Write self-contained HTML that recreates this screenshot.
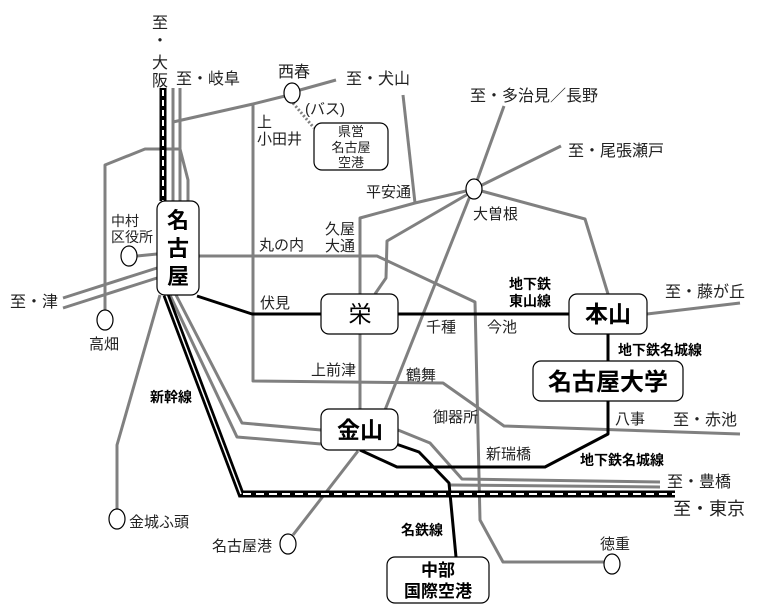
<!DOCTYPE html>
<html><head><meta charset="utf-8"><style>
html,body{margin:0;padding:0;background:#fff;}
svg{display:block;}
text{font-family:"Liberation Sans","Noto Sans CJK JP",sans-serif;fill:#222;}
.b{font-weight:bold;fill:#000;}
</style></head><body>
<svg width="760" height="616" viewBox="0 0 760 616" xmlns="http://www.w3.org/2000/svg">
<g fill="none" stroke="#808080" stroke-width="3" stroke-linejoin="round">
<polyline points="173,201 173,88"/>
<polyline points="180,201 180,88"/>
<polyline points="173,122 253,104 285,96"/>
<polyline points="300,90 336,80"/>
<polyline points="253,104 253,381 443,383 504,426 740,434"/>
<polyline points="105,310 105,165 145,149 180,149 188,180 188,201"/>
<polyline points="137,256 157,254"/>
<polyline points="63,298 157,268"/>
<polyline points="63,308 157,278"/>
<polyline points="160,295 117,445 117,509"/>
<polyline points="176,295 242,423 321,430"/>
<polyline points="170,295 237,437 321,444"/>
<polyline points="199,256 377,256 475,302 480,520 503,562 604,562"/>
<polyline points="398,430 430,443 462,479 660,482"/>
<polyline points="450,485 660,487"/>
<polyline points="358,451 293,535"/>
<polyline points="474,189 504,106"/>
<polyline points="474,189 561,146"/>
<polyline points="474,189 585,219 608,294"/>
<polyline points="466,191 415,203 360,218 360,294"/>
<polyline points="403,95 415,203"/>
<polyline points="468,194 387,241 386,278 375,294"/>
<polyline points="470,196 385,410"/>
<polyline points="360,334 360,409"/>
<polyline points="647,314 740,303"/>
</g>
<polyline points="293,103 314,128" fill="none" stroke="#808080" stroke-width="3" stroke-dasharray="2,2"/>
<g fill="none" stroke="#000" stroke-width="3" stroke-linejoin="round">
<polyline points="197,296 252,314 321,314"/>
<polyline points="398,314 569,314"/>
<polyline points="608,334 608,361"/>
<polyline points="608,401 608,434 545,467 397,467 360,450"/>
<polyline points="396,444 419,452 449,483 456,557"/>
</g>
<g fill="none" stroke-linejoin="miter">
<polyline points="163,88 163,201" stroke="#000" stroke-width="7"/>
<polyline points="163,90 163,201" stroke="#fff" stroke-width="2" stroke-dasharray="6,4"/>
<polyline points="166,295 241,494 675,494" stroke="#000" stroke-width="7"/>
<polyline points="166,295 241,494" stroke="#fff" stroke-width="1.5"/>
<polyline points="243,494 675,494" stroke="#fff" stroke-width="2" stroke-dasharray="8,5"/>
</g>
<g fill="#fff" stroke="#000" stroke-width="1.2">
<ellipse cx="292" cy="93" rx="8" ry="10"/>
<ellipse cx="129" cy="256" rx="8" ry="10"/>
<ellipse cx="105" cy="320" rx="8" ry="10"/>
<ellipse cx="117" cy="519" rx="8" ry="10"/>
<ellipse cx="288" cy="544" rx="8" ry="10"/>
<ellipse cx="612" cy="564" rx="8" ry="10"/>
<ellipse cx="474" cy="189" rx="8" ry="10"/>
</g>
<g fill="#fff" stroke="#000" stroke-width="1.2">
<rect x="157" y="201" width="42" height="94" rx="8"/>
<rect x="321" y="294" width="77" height="40" rx="8"/>
<rect x="321" y="409" width="77" height="41" rx="8"/>
<rect x="569" y="294" width="78" height="40" rx="8"/>
<rect x="533" y="361" width="150" height="40" rx="8"/>
<rect x="387" y="557" width="102" height="46" rx="8"/>
<rect x="314" y="123" width="74" height="47" rx="8"/>
</g>
<text class="b" x="178" y="228" font-size="22" text-anchor="middle">名</text>
<text class="b" x="178" y="256" font-size="22" text-anchor="middle">古</text>
<text class="b" x="178" y="284" font-size="22" text-anchor="middle">屋</text>
<text x="360" y="322" font-size="23" text-anchor="middle" style="fill:#000">栄</text>
<text class="b" x="360" y="438" font-size="23" text-anchor="middle">金山</text>
<text class="b" x="608" y="322" font-size="23" text-anchor="middle">本山</text>
<text class="b" x="608" y="390" font-size="24" text-anchor="middle">名古屋大学</text>
<text class="b" x="438" y="576" font-size="17" text-anchor="middle">中部</text>
<text class="b" x="438" y="597" font-size="17" text-anchor="middle">国際空港</text>
<text x="351" y="136" font-size="13" text-anchor="middle">県営</text>
<text x="351" y="152" font-size="13" text-anchor="middle">名古屋</text>
<text x="351" y="167" font-size="13" text-anchor="middle">空港</text>
<g font-size="16">
<text x="160" y="28" text-anchor="middle">至</text>
<text x="160" y="46" text-anchor="middle">・</text>
<text x="160" y="68" text-anchor="middle">大</text>
<text x="160" y="86" text-anchor="middle">阪</text>
<text x="176" y="84">至・岐阜</text>
<text x="278" y="77">西春</text>
<text x="346" y="84">至・犬山</text>
<text x="470" y="101">至・多治見／長野</text>
<text x="568" y="156">至・尾張瀬戸</text>
<text x="10" y="307">至・津</text>
<text x="665" y="297">至・藤が丘</text>
<text x="673" y="425">至・赤池</text>
<text x="667" y="487">至・豊橋</text>
<text x="673" y="515" font-size="18">至・東京</text>
</g>
<g font-size="15">
<text x="305" y="114">(バス)</text>
<text x="257" y="127">上</text>
<text x="257" y="144">小田井</text>
<text x="366" y="197">平安通</text>
<text x="473" y="219">大曽根</text>
<text x="111" y="226" font-size="14">中村</text>
<text x="111" y="242" font-size="14">区役所</text>
<text x="259" y="250">丸の内</text>
<text x="325" y="234">久屋</text>
<text x="325" y="251">大通</text>
<text x="260" y="308">伏見</text>
<text x="426" y="332">千種</text>
<text x="487" y="332">今池</text>
<text x="89" y="349">高畑</text>
<text x="311" y="375">上前津</text>
<text x="406" y="380">鶴舞</text>
<text x="433" y="422">御器所</text>
<text x="615" y="424">八事</text>
<text x="486" y="459">新瑞橋</text>
<text x="129" y="527">金城ふ頭</text>
<text x="212" y="551">名古屋港</text>
<text x="600" y="549">徳重</text>
</g>
<g font-size="14">
<text class="b" x="509" y="289">地下鉄</text>
<text class="b" x="509" y="306">東山線</text>
<text class="b" x="618" y="355">地下鉄名城線</text>
<text class="b" x="150" y="402">新幹線</text>
<text class="b" x="580" y="465">地下鉄名城線</text>
<text class="b" x="401" y="535">名鉄線</text>
</g>
</svg>
</body></html>
